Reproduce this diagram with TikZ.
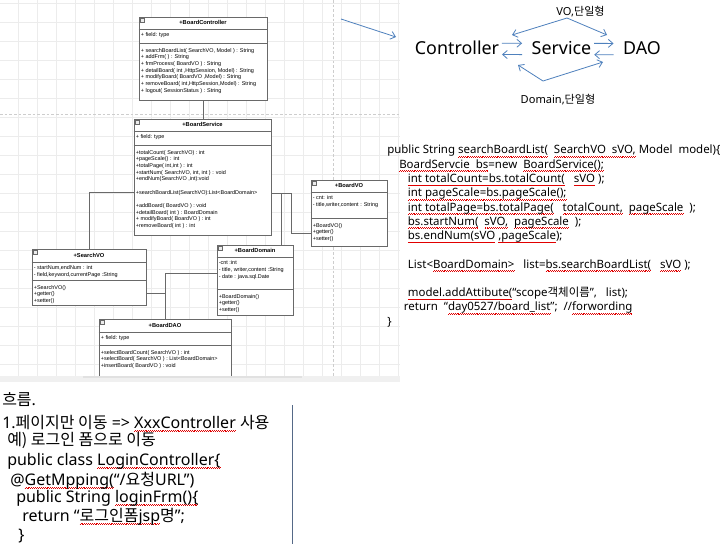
\documentclass[tikz,border=0pt]{standalone}
\usepackage{fontspec}
\setmainfont{Noto Sans}
\newfontfamily\kr{Noto Sans CJK KR}
\newfontfamily\umlfont{Liberation Sans}
\usetikzlibrary{
	arrows.meta,
	calc,
	fit,
	positioning
}
\definecolor{GridGray}{RGB}{236,236,236}
\definecolor{PageGray}{RGB}{205,205,205}
\definecolor{BoxGray}{RGB}{105,105,105}
\definecolor{OfficeBlue}{RGB}{79,129,189}
\definecolor{WaveRed}{RGB}{225,0,0}
\definecolor{RuleBlue}{RGB}{85,105,135}
\definecolor{BarGray}{RGB}{240,240,240}

% 红色波浪线
\newsavebox{\sqbox}
\newcommand{\wavepiece}{\rule[-2.6pt]{0.7pt}{0.5pt}\rule[-2.1pt]{0.7pt}{0.5pt}}
\newcommand{\sq}[1]{\sbox{\sqbox}{#1}\rlap{\color{WaveRed}\hbox to \wd\sqbox{\xleaders\hbox{\wavepiece}\hfill}}\usebox{\sqbox}}

\tikzset{
	umlbox/.style={draw=BoxGray, fill=white, inner sep=0pt, line width=0.6pt},
	umlline/.style={draw=BoxGray, line width=0.6pt},
	umltitle/.style={font=\umlfont\bfseries\fontsize{4.3}{5}\selectfont, inner sep=0pt},
	umltext/.style={font=\umlfont\fontsize{4.1}{5}\selectfont, align=left, inner xsep=1.5pt, inner ysep=0pt},
	assoc/.style={draw=BoxGray, line width=0.6pt},
	flow/.style={OfficeBlue, line width=0.6pt, -{Straight Barb[length=3.5pt,width=6pt]}},
	bothflow/.style={OfficeBlue, line width=0.6pt, {Straight Barb[length=3.5pt,width=6pt]}-{Straight Barb[length=3.5pt,width=6pt]}},
	big/.style={font=\fontsize{13.4}{15}\selectfont, anchor=base, inner sep=0pt},
	small/.style={font=\fontsize{8.3}{10}\selectfont, anchor=base, inner sep=0pt},
	code/.style={font=\fontsize{8.6}{10.7}\selectfont, align=left, inner sep=0pt},
	note/.style={font=\fontsize{12}{14}\selectfont, anchor=base west, inner sep=0pt}
}

% 类框: 名字, 左上, 右下, 标题线, 分隔线, 类名, 属性, 方法
\newcommand{\umlclass}[8]{%
	\node[umlbox, fit={#2 #3}] (#1) {};
	\draw[umlline] (#1.west |- 0,#4) -- (#1.east |- 0,#4);
	\draw[umlline] (#1.west |- 0,#5) -- (#1.east |- 0,#5);
	\draw[umlline, fill=GridGray, line width=0.4pt] ($(#1.north west)+(2,2)$) rectangle ++(4,4);
	\node[umltitle] (#1 title) at ($(#1.north)!0.5!(#1.north |- 0,#4)$) {#6};
	\node[umltext, anchor=north west] (#1 fields) at ($(#1.west |- 0,#4)+(0,3.5)$) {#7};
	\node[umltext, anchor=north west] (#1 methods) at ($(#1.west |- 0,#5)+(0,5)$) {#8};
}

\begin{document}
\begin{tikzpicture}[x=0.75pt, y=-0.75pt]
	\useasboundingbox (0,0) rectangle (727,544);
	\fill[white] (0,0) rectangle (727,544);

	% 类图截图
	\begin{scope}
		\clip (0,0) rectangle (400,376);
		\foreach \i in {0,...,21} {
			\draw[GridGray] (\i*19-1,0) -- (\i*19-1,376);
			\draw[GridGray] (0,\i*19+3) -- (400,\i*19+3);
		}
		\draw[PageGray, dash pattern=on 2pt off 1.5pt] (0,114) -- (400,114);
		\draw[PageGray, dash pattern=on 2pt off 1.5pt] (333,0) -- (333,376);

		\umlclass{ctl}{(139,17)}{(267,100)}{29}{43}{+BoardController}{+ field: type}{%
			+ searchBoardList( SearchVO, Model ) : String\\
			+ addFrm( ) : String\\
			+ frmProcess( BoardVO ) : String\\
			+ detailBoard( int ,HttpSession, Model) : String\\
			+ modifyBoard( BoardVO ,Model) : String\\
			+ removeBoard( int,HttpSession,Model) : String\\
			+ logout( SessionStatus ) : String}
		\umlclass{svc}{(134,119)}{(271,235)}{131}{145}{+BoardService}{+ field: type}{%
			+totalCount( SearchVO) : int\\
			+pageScale() : int\\
			+totalPage( int,int ) : int\\
			+startNum( SearchVO, int, int ) : void\\
			+endNum(SearchVO ,int):void\\[5pt]
			+searchBoardList(SearchVO):List<BoardDomain>\\[5pt]
			+addBoard( BoardVO ) : void\\
			+detailBoard( int ) : BoardDomain\\
			+ modifyBoard( BoardVO ) : int\\
			+removeBoard( int ) : int}
		\umlclass{vo}{(311,180)}{(387,246)}{192}{218}{+BoardVO}{%
			- cnt: int\\
			- title,writer,content : String}{%
			+BoardVO()\\
			+getter()\\
			+setter()}
		\umlclass{srch}{(32,249)}{(146,305)}{262}{280}{+SearchVO}{%
			- startNum,endNum : int\\
			- field,keyword,currentPage :String}{%
			+SearchVO()\\
			+getter()\\
			+setter()}
		\umlclass{dom}{(217,245)}{(293,315)}{257}{289}{+BoardDomain}{%
			-cnt :int\\
			- title, writer,content :String\\
			- date : java.sql.Date}{%
			+BoardDomain()\\
			+getter()\\
			+setter()}
		\umlclass{dao}{(99,319)}{(231,390)}{332}{345}{+BoardDAO}{+ field: type}{%
			+selectBoardCount( SearchVO ) : int\\
			+selectBoard( SearchVO ) : List<BoardDomain>\\
			+insertBoard( BoardVO ) : void}

		% 连线
		\coordinate (svcL) at (134,192);
		\coordinate (svcR) at (271,193);
		\coordinate (domJ) at (281,193);
		\coordinate (voJ) at (291,233);
		\coordinate (voL) at (311,233);
		\coordinate (srchR) at (146,293);
		\coordinate (domL) at (217,273);
		\draw[assoc] (ctl.south) -- (ctl.south |- svc.north);
		\draw[assoc] (svcL) -| (srch.north);
		\draw[assoc] (svcR) -| (voJ) -- (voL);
		\draw[assoc] (domJ) -- (domJ |- dom.north);
		\draw[assoc] (srchR) -- (srchR -| dao.north);
		\draw[assoc] (dao.north) |- (domL);

		\coordinate (a0) at (341,19);
		\coordinate (a1) at (396,37);
		\draw[flow] (a0) -- (a1);
	\end{scope}
	\fill[BarGray] (0,376) rectangle (400,382);
	\fill[PageGray!60] (83,376) rectangle (302,378);

	% 흐름 그림
	\node[big] (ctlw) at (457,54.5) {Controller};
	\node[big] (svcw) at (561.5,54.5) {Service};
	\node[big] (daow) at (642,54.5) {DAO};
	\draw[flow, shorten <=2pt, shorten >=7pt] ([yshift=3.5pt]ctlw.east) -- ([yshift=3.5pt]svcw.west);
	\draw[flow, shorten <=7pt, shorten >=2pt] ([yshift=-5pt]svcw.west) -- ([yshift=-5pt]ctlw.east);
	\draw[flow, shorten <=2pt, shorten >=7pt] ([yshift=3.5pt]svcw.east) -- ([yshift=3.5pt]daow.west);
	\draw[flow, shorten <=7pt, shorten >=2pt] ([yshift=-5pt]daow.west) -- ([yshift=-5pt]svcw.east);
	\node[small] (volab) at (580.5,15.5) {VO,{\kr 단일형}};
	\node[small] (domlab) at (558,103) {Domain,{\kr 단일형}};
	\coordinate (up0) at (512,35);
	\coordinate (up1) at (567,18);
	\coordinate (up2) at (607,35);
	\coordinate (dn0) at (518,65);
	\coordinate (dn1) at (543,81);
	\coordinate (dn2) at (603,62);
	\draw[bothflow] (up0) -- (up1) -- (up2);
	\draw[bothflow] (dn0) -- (dn1) -- (dn2);

	% 代码
	\node[code, anchor=north west] (src) at (387,145) {%
		public String \sq{searchBoardList(}~ \sq{SearchVO~ sVO,} Model~ model)\{\\
		\hspace*{9pt}\sq{BoardServcie~ bs}=new~ \sq{BoardService();}\\
		\hspace*{15.5pt}\sq{int totalCount=bs.totalCount(}~~ \sq{sVO} );\\
		\hspace*{15.5pt}\sq{int pageScale=bs.pageScale();}\\
		\hspace*{15.5pt}\sq{int totalPage=bs.totalPage(}~~ \sq{totalCount,}~ \sq{pageScale}~ );\\
		\hspace*{15.5pt}\sq{bs.startNum(}~ \sq{sVO,}~ \sq{pageScale}~ );\\
		\hspace*{15.5pt}\sq{bs.endNum(sVO}~\sq{,pageScale});\\[10.7pt]
		\hspace*{15.5pt}List<\sq{BoardDomain>}~~ list=\sq{bs.searchBoardList(}~~ \sq{sVO}~);\\[10.7pt]
		\hspace*{15.5pt}\sq{model.addAttibute(}“scope{\kr 객체이름}”,~~ list);\\
		\hspace*{12.5pt}return~ “\sq{day0527/board\_list}”;~ //\sq{forwording}\\
		\}};

	% 흐름 설명
	\node[note] (n1) at (2,405) {{\kr 흐름}.};
	\node[note] (n2) at (2,428) {1.{\kr 페이지만 이동} => \sq{XxxController} {\kr 사용}};
	\node[note] (n3) at (7,445) {{\kr 예) 로그인 폼으로 이동}};
	\node[note] (n4) at (7,465) {public class \sq{LoginController\{}};
	\node[note] (n5) at (10,485) {@\sq{GetMpping(}“/{\kr 요청}URL”)};
	\node[note] (n6) at (16,502) {public String \sq{loginFrm()\{}};
	\node[note] (n7) at (22,521) {return “\sq{{\kr 로그인폼}jsp}{\kr 명}”;};
	\node[note] (n8) at (18,540) {\}};
	\draw[RuleBlue, line width=0.6pt] (292,405) -- (292,544);
\end{tikzpicture}
\end{document}
